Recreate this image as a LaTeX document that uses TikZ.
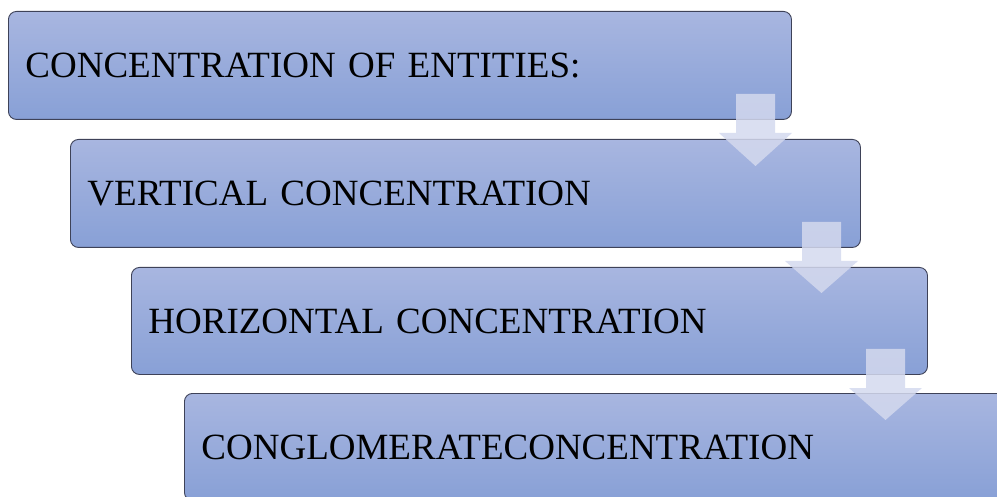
\documentclass[tikz,border=0pt]{standalone}
\usepackage{fontspec}
\setmainfont[WordSpace=0.75]{Liberation Serif}
\begin{document}
\begin{tikzpicture}[x=1pt,y=-1pt,
  box/.style={draw=boxline, line width=0.9pt, rounded corners=8pt,
    top color=boxtop, bottom color=boxbot, anchor=north west,
    inner xsep=17pt, inner ysep=0pt, align=left,
    font=\fontsize{37}{40}\selectfont},
  darrow/.style={fill=arrowcol, fill opacity=0.85, draw=none}]
\definecolor{boxtop}{RGB}{168,182,224}
\definecolor{boxbot}{RGB}{136,160,214}
\definecolor{boxline}{RGB}{62,66,88}
\definecolor{arrowcol}{RGB}{212,217,238}
\clip (0,0) rectangle (997,497);
\useasboundingbox (0,0) rectangle (997,497);
\node[box, text width=749pt, minimum height=108pt] (b1) at (8,11) {CONCENTRATION OF ENTITIES:};
\node[box, text width=756pt, minimum height=108pt] (b2) at (70,139) {VERTICAL CONCENTRATION};
\node[box, text width=762pt, minimum height=107pt] (b3) at (131,267) {HORIZONTAL CONCENTRATION};
\node[box, text width=800pt, minimum height=107pt] (b4) at (184,393) {CONGLOMERATECONCENTRATION};
% arrows
\path[darrow] (736,94) -- (775,94) -- (775,133) -- (792,133) -- (755.5,166) -- (719,133) -- (736,133) -- cycle;
\path[darrow] (802,222) -- (841,222) -- (841,261) -- (858,261) -- (821.5,293) -- (785,261) -- (802,261) -- cycle;
\path[darrow] (866,349) -- (905,349) -- (905,388) -- (922,388) -- (885.5,420) -- (849,388) -- (866,388) -- cycle;
\end{tikzpicture}
\end{document}
